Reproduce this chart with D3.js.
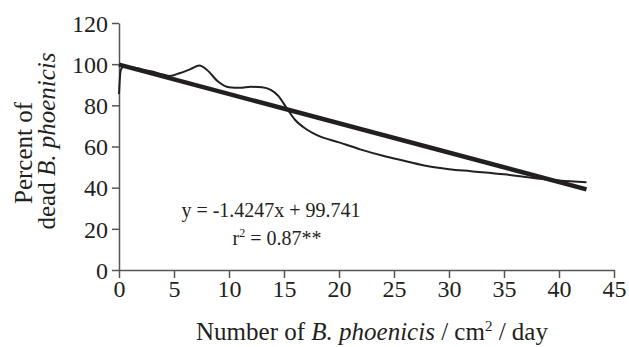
<!DOCTYPE html>
<html>
<head>
<meta charset="utf-8">
<script src="https://cdn.jsdelivr.net/npm/d3@7"></script>
<style>
  body { margin: 0; background: #fff; }
  text { font-family: "Liberation Serif", "Times New Roman", serif; fill: #231f20; }
</style>
</head>
<body>
<script>
const width = 629;
const height = 347;

const obsX = [0, 0.15, 0.4, 1, 2, 3, 4, 4.6, 5.5, 6.5, 7.3, 8, 9, 10, 11, 12, 13, 13.8, 14.5, 15.2, 16, 17, 18, 20, 22, 24, 26, 28, 30, 32, 35, 38, 40, 42.5];
const obsY = [85.5, 97, 98.8, 98.6, 97.6, 96.4, 95, 94.3, 95.6, 97.6, 99.3, 97.2, 91.6, 88.8, 88.5, 89, 88.8, 87.5, 84.5, 79, 73, 68.5, 65.5, 62, 58.5, 55.5, 53, 50.5, 49, 48, 46.5, 44.5, 43.5, 42.6];

// linear fit
const slope = -1.4247, intercept = 99.741;
const fitX = [0, 42.5];

const xTicks = [0, 5, 10, 15, 20, 25, 30, 35, 40, 45];
const yTicks = [0, 20, 40, 60, 80, 100, 120];

const svg = d3.select("body")
	.append("svg")
	.attr("width", width)
	.attr("height", height);

const x = d3.scaleLinear().domain([0, 45]).range([119, 614]);
const y = d3.scaleLinear().domain([0, 120]).range([270, 23]);

// axes
const xAxis = svg.append("g")
	.attr("transform", "translate(0,270)")
	.call(d3.axisBottom(x).tickValues(xTicks).tickSize(8).tickPadding(2).tickSizeOuter(0));
const yAxis = svg.append("g")
	.attr("transform", "translate(119,0)")
	.call(d3.axisLeft(y).tickValues(yTicks).tickSize(7).tickPadding(4).tickSizeOuter(0));

[xAxis, yAxis].forEach(a => {
	a.selectAll("path, line").attr("stroke", "#555").attr("stroke-width", 1.5);
	a.selectAll("text")
		.style("font-family", '"Liberation Serif", serif')
		.style("font-size", "24px")
		.attr("fill", "#231f20");
});
yAxis.selectAll("text").attr("dy", "0.34em");

// lines
const line = d3.line().x(d => x(d[0])).y(d => y(d[1]));

svg.append("path")
	.datum(obsX.map((v, i) => [v, obsY[i]]))
	.attr("fill", "none")
	.attr("stroke", "#231f20")
	.attr("stroke-width", 2)
	.attr("d", line.curve(d3.curveMonotoneX));

svg.append("path")
	.datum(fitX.map(v => [v, slope * v + intercept]))
	.attr("fill", "none")
	.attr("stroke", "#231f20")
	.attr("stroke-width", 4.5)
	.attr("d", d3.line().x(d => x(d[0])).y(d => y(d[1])));

// equation
svg.append("text")
	.attr("x", 271).attr("y", 217)
	.attr("text-anchor", "middle")
	.style("font-size", "20px")
	.text("y = -1.4247x + 99.741");

const r2 = svg.append("text")
	.attr("x", 277).attr("y", 245)
	.attr("text-anchor", "middle")
	.style("font-size", "20px");
r2.append("tspan").text("r");
r2.append("tspan").attr("dy", -8).style("font-size", "12px").text("2");
r2.append("tspan").attr("dy", 8).text(" = 0.87**");

// x title
const xt = svg.append("text")
	.attr("x", 372).attr("y", 340)
	.attr("text-anchor", "middle")
	.style("font-size", "25px");
xt.append("tspan").text("Number of ");
xt.append("tspan").style("font-style", "italic").text("B. phoenicis");
xt.append("tspan").text(" / cm");
xt.append("tspan").attr("dy", -9).style("font-size", "15px").text("2");
xt.append("tspan").attr("dy", 9).text(" / day");

// y title
svg.append("text")
	.attr("transform", "translate(32,153) rotate(-90)")
	.attr("text-anchor", "middle")
	.style("font-size", "25px")
	.text("Percent of");

const yt = svg.append("text")
	.attr("transform", "translate(55,141) rotate(-90)")
	.attr("text-anchor", "middle")
	.style("font-size", "25px");
yt.append("tspan").text("dead ");
yt.append("tspan").style("font-style", "italic").text("B. phoenicis");
</script>
</body>
</html>
